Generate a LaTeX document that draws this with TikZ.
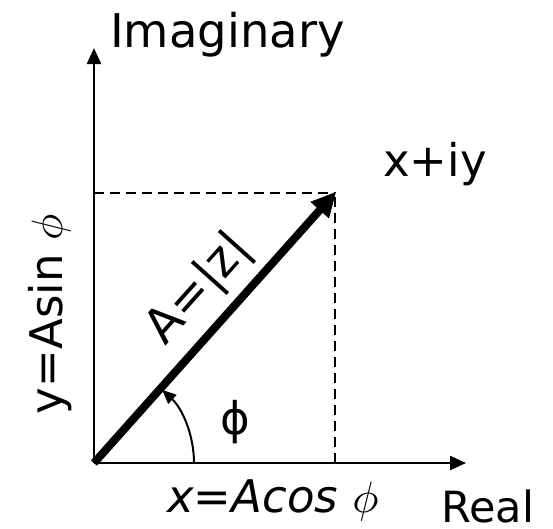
\documentclass[tikz,border=0pt]{standalone}
\usepackage{graphicx}
\usepackage{fontspec}
\setmainfont{DejaVu Sans}
\usetikzlibrary{arrows.meta}
\newcommand{\bigphi}{\scalebox{4.4}{\normalsize$\phi$}}
\begin{document}
\begin{tikzpicture}[x=1pt,y=-1pt,
  lbl/.style={inner sep=0pt,font=\fontsize{45}{54}\selectfont},
  axis/.style={line width=2.4pt,-{Triangle[length=16pt,width=14pt]}},
  vec/.style={line width=8pt,-{Triangle[length=25pt,width=23pt]},shorten >=-2pt},
  guide/.style={line width=2pt,dash pattern=on 10pt off 6pt},
  angarrow/.style={line width=2pt,-{Triangle[length=14pt,width=12pt]}}]
\useasboundingbox (0,0) rectangle (553,528);
\coordinate (O) at (94,463);
\coordinate (Ytip) at (94,48);
\coordinate (Xtip) at (466,463);
\coordinate (P) at (335,193);
\coordinate (Py) at (94,193);
\coordinate (Px) at (335,463);
\coordinate (Astart) at (194,463);
% dashed guides
\draw[guide] (Py) -- (P);
\draw[guide] (Px) -- (P);
% axes
\draw[axis] (O) -- (Ytip);
\draw[axis] (O) -- (Xtip);
% vector
\draw[vec] (O) -- (P);
% angle arc
\draw[angarrow] (Astart) arc[start angle=0,end angle=-47,radius=100];
% labels
\node[lbl,anchor=base west,font=\fontsize{46.5}{54}\selectfont] (imag) at (110,47) {Imaginary};
\node[lbl,anchor=base west] (z) at (383,176) {x+iy};
\node[lbl,anchor=base west,font=\fontsize{43}{50}\selectfont] (real) at (441,522) {Real};
\node[lbl,anchor=base west] (xl) at (167,512) {\itshape x=Acos \bigphi};
\node[lbl,anchor=base,rotate=90] (yl) at (62,314) {y=Asin \bigphi};
\node[lbl,anchor=base,rotate=48.2,font=\fontsize{48}{54}\selectfont] (al) at (209,298) {A=|z|};
\node[lbl] (phi) at (235,422) {\char"03D5};
\end{tikzpicture}
\end{document}
